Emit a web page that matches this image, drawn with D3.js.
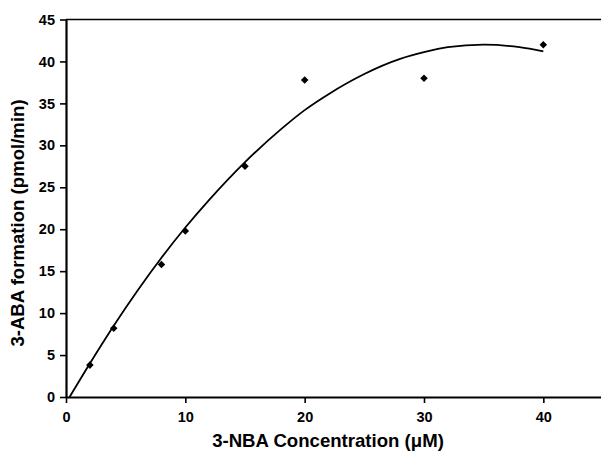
<!DOCTYPE html>
<html><head><meta charset="utf-8">
<script src="https://cdn.jsdelivr.net/npm/d3@7"></script>
<style>body{margin:0;background:#fff}svg{display:block}text{font-family:"Liberation Sans",Arial,sans-serif;font-weight:bold}</style>
</head><body><svg id="c" width="601" height="452"></svg>
<script>
const concX = [2, 4, 8, 10, 15, 20, 30, 40];
const rateY = [3.8, 8.2, 15.8, 19.8, 27.5, 37.8, 38.0, 42.0];
const fitX = [0.3, 2, 4, 6, 8, 10, 12, 15, 18, 20, 22, 25, 28, 30, 32, 35, 38, 40];
const fitY = [0, 4.0, 8.5, 12.7, 16.6, 20.2, 23.5, 28.0, 31.9, 34.2, 36.1, 38.5, 40.3, 41.1, 41.7, 42.0, 41.7, 41.2];
const xTicks = [0, 10, 20, 30, 40];
const yTicks = [0, 5, 10, 15, 20, 25, 30, 35, 40, 45];

const svg = d3.select("#c");
const x = d3.scaleLinear().domain([0, 45]).range([66, 603]);
const y = d3.scaleLinear().domain([0, 45]).range([397, 19.5]);

// top frame line
svg.append("line").attr("x1", 66).attr("x2", 601).attr("y1", y(45)).attr("y2", y(45))
  .attr("stroke", "#000").attr("stroke-width", 1.6);

const xa = svg.append("g").attr("transform", `translate(0,${y(0)})`)
  .call(d3.axisBottom(x).tickValues(xTicks).tickSize(6).tickSizeOuter(0).tickPadding(9));
const ya = svg.append("g").attr("transform", `translate(${x(0)},0)`)
  .call(d3.axisLeft(y).tickValues(yTicks).tickSize(6).tickSizeOuter(0).tickPadding(5));
[xa, ya].forEach(a => {
  a.select(".domain").attr("stroke", "#000").attr("stroke-width", 2.2);
  a.selectAll(".tick line").attr("stroke", "#000").attr("stroke-width", 1.6);
  a.selectAll(".tick text").attr("font-size", 14.5).attr("font-weight", "bold").attr("fill", "#000")
    .attr("font-family", '"Liberation Sans",Arial,sans-serif');
});

const fit = fitX.map((v, i) => [v, fitY[i]]);
svg.append("path").datum(fit)
  .attr("d", d3.line().x(d => x(d[0])).y(d => y(d[1])).curve(d3.curveMonotoneX))
  .attr("fill", "none").attr("stroke", "#000").attr("stroke-width", 1.8);

svg.append("g").selectAll("path").data(concX.map((v, i) => [v, rateY[i]])).enter()
  .append("path")
  .attr("d", d3.symbol().type(d3.symbolDiamond2).size(36))
  .attr("transform", d => `translate(${x(d[0])},${y(d[1])})`)
  .attr("fill", "#000");

svg.append("text").attr("x", 328).attr("y", 447).attr("text-anchor", "middle")
  .attr("font-size", 18.6).text("3-NBA Concentration (μM)");
svg.append("text").attr("transform", "translate(24,223) rotate(-90)").attr("text-anchor", "middle")
  .attr("font-size", 18.6).text("3-ABA formation (pmol/min)");
</script></body></html>
